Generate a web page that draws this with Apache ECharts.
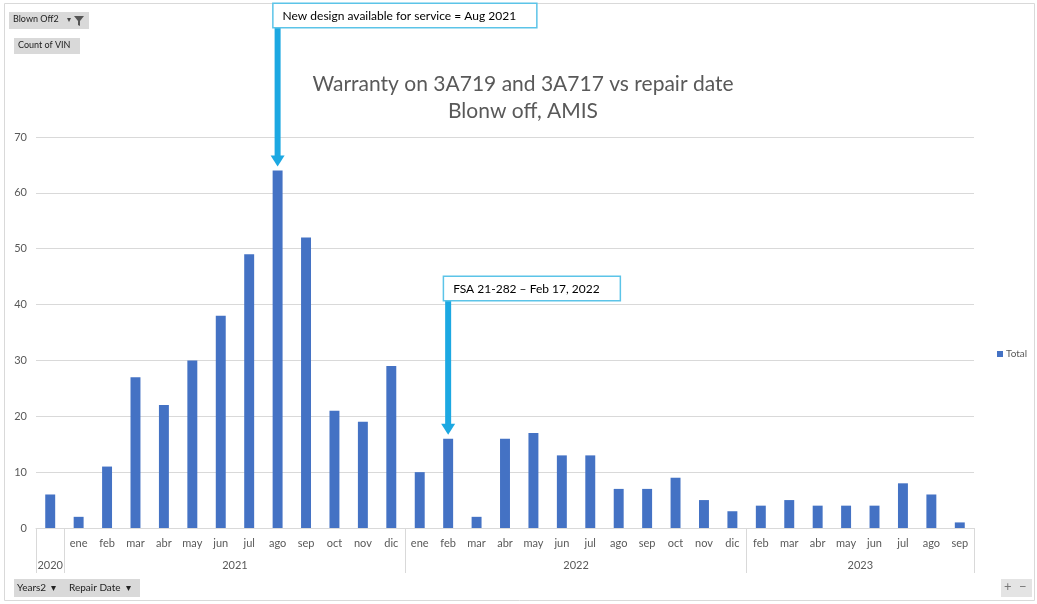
<!DOCTYPE html>
<html>
<head>
<meta charset="utf-8">
<title>Warranty on 3A719 and 3A717 vs repair date</title>
<script src="https://cdn.jsdelivr.net/npm/echarts@6/dist/echarts.min.js"></script>
<style>
  html, body { margin: 0; padding: 0; background: #fff; }
  #main { width: 1037px; height: 604px; }
</style>
</head>
<body>
<div id="main"></div>
<script>
// months of repair date, grouped by year (2020 has one unnamed bucket)
const months = ['',
  'ene', 'feb', 'mar', 'abr', 'may', 'jun', 'jul', 'ago', 'sep', 'oct', 'nov', 'dic',
  'ene', 'feb', 'mar', 'abr', 'may', 'jun', 'jul', 'ago', 'sep', 'oct', 'nov', 'dic',
  'feb', 'mar', 'abr', 'may', 'jun', 'jul', 'ago', 'sep']
const years = ['2020', '2021', '2022', '2023']
const yearSpans = [1, 12, 12, 8]
const total = [6,
  2, 11, 27, 22, 30, 38, 49, 64, 52, 21, 19, 29,
  10, 16, 2, 16, 17, 13, 13, 7, 7, 9, 5, 3,
  4, 5, 4, 4, 4, 8, 6, 1]
const yTicks = [0, 10, 20, 30, 40, 50, 60, 70]

// callouts: which bar they point at and their text
const noteIndex = [8, 14]
const noteText = ['New design available for service = Aug 2021', 'FSA 21-282 \u2013 Feb 17, 2022']

const font = 'Lato, "Liberation Sans", sans-serif'
const grey = '#595959'
const arrowColor = '#1ca8e2'
const noteBoxTop = [4, 277]

// year group boundaries and label centres
const bounds = [0]
yearSpans.forEach(s => bounds.push(bounds[bounds.length - 1] + s))
const yearCenters = years.map((y, i) => (bounds[i] + bounds[i + 1]) / 2)

const chart = echarts.init(document.getElementById('main'))

const option = {
  animation: false,
  textStyle: { fontFamily: font },
  title: {
    text: 'Warranty on 3A719 and 3A717 vs repair date\nBlonw off, AMIS',
    left: 518,
    top: 66,
    textAlign: 'center',
    textStyle: { fontFamily: font, fontSize: 21, fontWeight: 'normal', color: grey, lineHeight: 27, align: 'center' }
  },
  legend: {
    data: ['Total'],
    orient: 'vertical',
    left: 992,
    top: 344,
    icon: 'rect',
    itemWidth: 6,
    itemHeight: 6,
    itemGap: 4,
    textStyle: { fontSize: 10, color: grey, padding: [0, 0, 0, -2] }
  },
  grid: { left: 36, right: 63, top: 137, bottom: 76, containLabel: false },
  xAxis: [
    {
      type: 'category',
      data: months,
      axisLine: { lineStyle: { color: '#d9d9d9' } },
      axisTick: { show: false },
      axisLabel: { interval: 0, color: grey, fontSize: 11, margin: 10 }
    },
    {
      type: 'value',
      min: 0,
      max: bounds[bounds.length - 1],
      position: 'bottom',
      axisLine: { show: false },
      splitLine: { show: false },
      axisTick: {
        show: true,
        customValues: bounds,
        length: 45,
        lineStyle: { color: '#d9d9d9' }
      },
      axisLabel: {
        customValues: yearCenters,
        formatter: v => years[yearCenters.indexOf(v)] || '',
        color: grey,
        fontSize: 11,
        margin: 32
      }
    }
  ],
  yAxis: {
    type: 'value',
    min: yTicks[0],
    max: yTicks[yTicks.length - 1],
    interval: 10,
    axisLine: { show: false },
    axisTick: { show: false },
    axisLabel: { color: grey, fontSize: 11, margin: 9 },
    splitLine: { lineStyle: { color: '#d9d9d9' } }
  },
  series: [
    {
      name: 'Total',
      type: 'bar',
      xAxisIndex: 0,
      data: total,
      barWidth: '35%',
      itemStyle: { color: '#4472c4' }
    },
    {
      name: 'notes',
      type: 'custom',
      xAxisIndex: 0,
      clip: false,
      silent: true,
      z: 5,
      data: noteIndex.map(i => [i, total[i]]),
      renderItem: function (params, api) {
        const i = params.dataIndex
        const tip = api.coord([api.value(0), api.value(1)])
        const x = tip[0]
        const tipY = tip[1] - 4
        const top = noteBoxTop[i]
        return {
          type: 'group',
          children: [
            {
              type: 'rect',
              shape: { x: x - 3, y: top + 12, width: 6, height: tipY - 10 - top - 12 },
              style: { fill: arrowColor }
            },
            {
              type: 'polygon',
              shape: { points: [[x - 7, tipY - 11], [x + 7, tipY - 11], [x, tipY]] },
              style: { fill: arrowColor }
            },
            {
              type: 'text',
              x: x - 4,
              y: top,
              style: {
                text: noteText[i],
                fontFamily: font,
                fontSize: 12,
                fill: '#000',
                backgroundColor: '#fff',
                borderColor: '#5cc4e8',
                borderWidth: 1.5,
                padding: [6, 20, 5, 9]
              }
            }
          ]
        }
      }
    }
  ],
  graphic: [
    { type: 'rect', shape: { x: 4.5, y: 3.5, width: 1030, height: 597 }, style: { fill: 'none', stroke: '#d9d9d9', lineWidth: 1 }, silent: true },
    // pivot field buttons
    { type: 'rect', shape: { x: 9, y: 12, width: 80, height: 17 }, style: { fill: '#d9d9d9' } },
    { type: 'text', x: 13, y: 15, style: { text: 'Blown Off2', fontSize: 9, fill: '#222', fontFamily: font } },
    { type: 'text', x: 67, y: 15, style: { text: '\u25BE', fontSize: 8, fill: '#444', fontFamily: font } },
    { type: 'polygon', shape: { points: [[74, 16], [84, 16], [80, 21], [80, 26], [78, 25], [78, 21]] }, style: { fill: '#555' } },
    { type: 'rect', shape: { x: 14, y: 38, width: 66, height: 16 }, style: { fill: '#d9d9d9' } },
    { type: 'text', x: 18, y: 41, style: { text: 'Count of VIN', fontSize: 9, fill: '#222', fontFamily: font } },
    { type: 'rect', shape: { x: 14, y: 579, width: 52, height: 18 }, style: { fill: '#d9d9d9' } },
    { type: 'text', x: 17, y: 583, style: { text: 'Years2  \u25BE', fontSize: 10, fill: '#222', fontFamily: font } },
    { type: 'rect', shape: { x: 66, y: 579, width: 74, height: 18 }, style: { fill: '#d9d9d9' } },
    { type: 'text', x: 69, y: 583, style: { text: 'Repair Date  \u25BE', fontSize: 10, fill: '#222', fontFamily: font } },
    { type: 'rect', shape: { x: 1001, y: 579, width: 31, height: 18 }, style: { fill: '#e4e4e4' } },
    { type: 'text', x: 1004, y: 580, style: { text: '+', fontSize: 13, fill: '#777', fontFamily: font } },
    { type: 'text', x: 1019, y: 580, style: { text: '\u2212', fontSize: 13, fill: '#777', fontFamily: font } }
  ]
}

chart.setOption(option)
</script>
</body>
</html>
